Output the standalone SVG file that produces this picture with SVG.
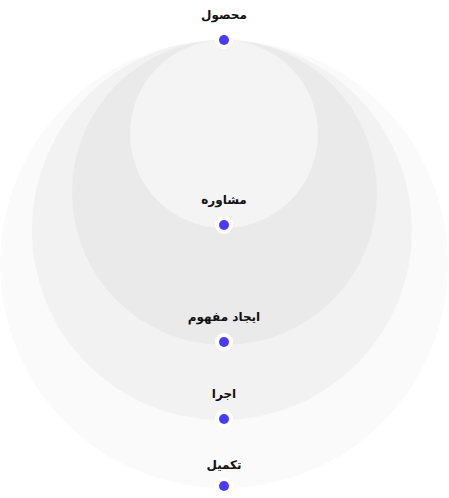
<svg xmlns="http://www.w3.org/2000/svg" width="449" height="498" viewBox="0 0 449 498">
<style>
.lbl{font-family:"DejaVu Sans","Noto Sans",sans-serif;font-size:12px;font-weight:bold;fill:#111;text-anchor:middle}
.ring{fill:#ffffff}
.dot{fill:#4a3cff}
</style>
<rect width="449" height="498" fill="#ffffff"/>
<g id="stage-5"><circle cx="224" cy="264" r="224" fill="#fafafa"/></g>
<g id="stage-4"><circle cx="222" cy="230" r="190" fill="#f2f2f2"/></g>
<g id="stage-3"><circle cx="224.5" cy="192.5" r="152.5" fill="#eaeaea"/></g>
<g id="stage-2"><circle cx="224" cy="134" r="94" fill="#f4f4f4"/></g>
<g id="connectors"></g>
<g id="node-1"><text class="lbl" x="224" y="19">محصول</text><circle class="ring" cx="224" cy="40" r="9"/><circle class="dot" cx="224" cy="40" r="5"/></g>
<g id="node-2"><text class="lbl" x="224" y="204">مشاوره</text><circle class="ring" cx="224" cy="225" r="9"/><circle class="dot" cx="224" cy="225" r="5"/></g>
<g id="node-3"><text class="lbl" x="224" y="321">ایجاد مفهوم</text><circle class="ring" cx="224" cy="342" r="9"/><circle class="dot" cx="224" cy="342" r="5"/></g>
<g id="node-4"><text class="lbl" x="224" y="398">اجرا</text><circle class="ring" cx="224" cy="419" r="9"/><circle class="dot" cx="224" cy="419" r="5"/></g>
<g id="node-5"><text class="lbl" x="224" y="469">تکمیل</text><circle class="ring" cx="224" cy="486" r="9"/><circle class="dot" cx="224" cy="486" r="5"/></g>
</svg>
